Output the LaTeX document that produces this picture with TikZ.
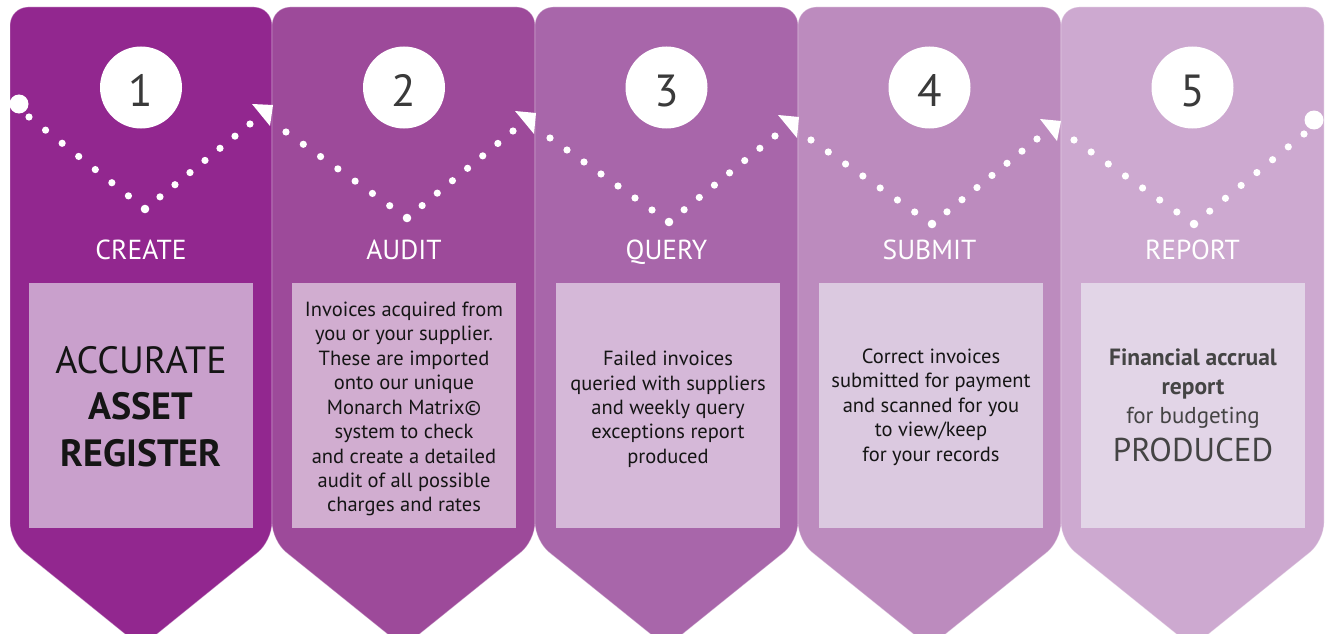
\documentclass[tikz,border=0pt]{standalone}
\usepackage{fontspec}
\setmainfont{PT Sans}
\usetikzlibrary{calc}
\definecolor{pA}{HTML}{92278F}
\definecolor{pB}{HTML}{9D4A9A}
\definecolor{pC}{HTML}{A866AA}
\definecolor{pD}{HTML}{BC8BBE}
\definecolor{pE}{HTML}{CDA9D0}
\definecolor{bA}{HTML}{C9A0CC}
\definecolor{bB}{HTML}{D1ADD0}
\definecolor{bC}{HTML}{D5B8D8}
\definecolor{bD}{HTML}{DBC9E0}
\definecolor{bE}{HTML}{E2D5E7}
\definecolor{numgray}{HTML}{3A3A3A}
\definecolor{bodytext}{HTML}{151515}
\definecolor{graytext}{HTML}{444444}
\begin{document}
\begin{tikzpicture}[x=1pt,y=-1pt,
  panel/.style={rounded corners=18pt, draw=white, draw opacity=0.35, line width=0.8pt},
  numcirc/.style={circle, fill=white, minimum size=82pt, inner sep=0pt},
  numtext/.style={text=numgray, font=\fontsize{45}{45}\selectfont, anchor=base, inner sep=0pt},
  titletext/.style={text=white, font=\fontsize{27.5}{27.5}\selectfont, anchor=base, inner sep=0pt},
  innerbox/.style={minimum width=224pt, minimum height=245pt, inner sep=0pt},
  bodytxt/.style={align=center, text=bodytext, inner sep=0pt, font=\fontsize{20.5}{24.45}\selectfont},
  boxfive/.style={anchor=base, inner sep=0pt, text=graytext},
  bigdot/.style={circle, fill=white, minimum size=19pt, inner sep=0pt},
]
\useasboundingbox (0,0) rectangle (1326,634);
% panels
\foreach \xl/\xr/\col in {10/272/pA, 272/535/pB, 535/798/pC, 798/1061/pD, 1061/1324/pE}{
  \path[panel, fill=\col] ({(\xl+\xr)/2},7) -- (\xr,7) -- (\xr,541) -- ({(\xl+\xr)/2},647) -- (\xl,541) -- (\xl,7) -- cycle;
}
% inner boxes
\foreach \xc/\col [count=\i] in {141/bA, 404/bB, 668/bC, 931/bD, 1193/bE}{
  \node[innerbox, fill=\col] (b\i) at (\xc,405.5) {};
}
% number circles and titles
\foreach \xc/\num/\ttl [count=\i] in {141/1/CREATE, 404/2/AUDIT, 666.5/3/QUERY, 929.5/4/SUBMIT, 1192.5/5/REPORT}{
  \node[numcirc] (c\i) at (\xc,87.5) {};
  \node[numtext] (n\i) at (\xc,106.5) {\num};
  \node[titletext] (h\i) at (\xc,259) {\ttl};
}
% dotted paths
\foreach \fx/\fy/\bx/\by/\lx/\ly [count=\i] in {29/117/145/209/250/124, 286/132/407/218/513/131, 550/138/669/222/775/136, 811/140/932/224/1037/139, 1074/140/1194/224/1304/134}{
  \coordinate (F\i) at (\fx,\fy);
  \coordinate (B\i) at (\bx,\by);
  \coordinate (L\i) at (\lx,\ly);
  \foreach \k in {0,...,6} \fill[white] ($(F\i)!\k/7!(B\i)$) circle (3.6pt);
  \fill[white] (B\i) circle (4.3pt);
  \foreach \k in {1,...,7} \fill[white] ($(B\i)!\k/7!(L\i)$) circle (3.6pt);
}
\node[bigdot] (start) at (19,104) {};
\node[bigdot] (finish) at (1314,120) {};
% arrow heads
\foreach \ax/\ay/\qx/\qy/\cx/\cy in {252/104/273/105/270/126, 515/111/536/113/534/134, 778/115/799/117/797/138, 1040/119/1061/121/1057/141}{
  \fill[white] (\ax,\ay) -- (\qx,\qy) -- (\cx,\cy) -- cycle;
}
% box texts
\node[align=center, text=bodytext, inner sep=0pt, font=\fontsize{38}{46.5}\selectfont] (t1) at (141,406.5) {ACCURATE\\\textbf{ASSET}\\\textbf{REGISTER}};
\node[bodytxt] (t2) at (404,409.1) {Invoices acquired from\\you or your supplier.\\These are imported\\onto our unique\\Monarch Matrix©\\system to check\\and create a detailed\\audit of all possible\\charges and rates};
\node[bodytxt] (t3) at (668,409.3) {Failed invoices\\queried with suppliers\\and weekly query\\exceptions report\\produced};
\node[bodytxt] (t4) at (931,407.2) {Correct invoices\\submitted for payment\\and scanned for you\\to view/keep\\for your records};
\node[boxfive, font=\fontsize{23.5}{23.5}\selectfont\bfseries] (t5a) at (1193,365.5) {Financial accrual};
\node[boxfive, font=\fontsize{23.5}{23.5}\selectfont\bfseries] (t5b) at (1193,394) {report};
\node[boxfive, font=\fontsize{23}{23}\selectfont] (t5c) at (1193,423) {for budgeting};
\node[boxfive, font=\fontsize{33}{33}\selectfont] (t5d) at (1193,461.5) {PRODUCED};
\end{tikzpicture}
\end{document}
